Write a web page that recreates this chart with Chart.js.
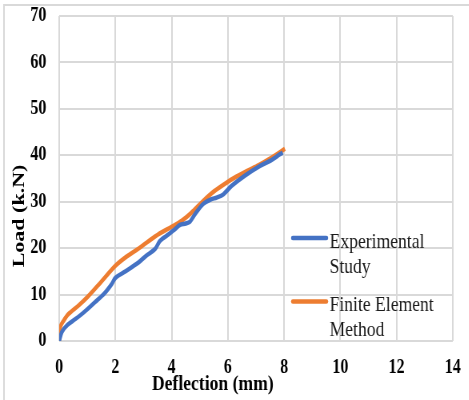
<!DOCTYPE html>
<html>
<head>
<meta charset="utf-8">
<script src="https://cdn.jsdelivr.net/npm/chart.js@4.4.1/dist/chart.umd.min.js"></script>
<style>
  html, body { margin: 0; padding: 0; background: #fff; }
  #wrap { width: 469px; height: 400px; overflow: hidden; position: relative; }
  /* the source figure is squeezed sideways, so draw wide and squeeze */
  #c { transform: scaleX(0.8); transform-origin: 0 0; display: block; }
</style>
</head>
<body>
<div id="wrap"><canvas id="c" width="586" height="400"></canvas></div>
<script>
const expDeflection = [0, 0.1, 0.3, 0.57, 0.9, 1.28, 1.6, 1.87, 2.0, 2.3, 2.82, 3.1, 3.41, 3.59, 3.9, 4.12, 4.3, 4.5, 4.65, 4.83, 5.12, 5.4, 5.6, 5.84, 6.13, 6.6, 7.14, 7.5, 7.85, 7.95];
const expLoad = [0, 2.0, 3.5, 4.7, 6.3, 8.4, 10.2, 12.3, 13.6, 14.8, 16.9, 18.4, 19.8, 21.6, 23.0, 24.1, 25.0, 25.3, 25.7, 27.3, 29.5, 30.5, 30.9, 31.6, 33.4, 35.6, 37.7, 38.8, 40.2, 40.6];

const femDeflection = [0, 0.04, 0.15, 0.33, 0.7, 1.04, 1.5, 2.0, 2.4, 2.82, 3.2, 3.53, 4.0, 4.36, 4.7, 5.13, 5.5, 5.95, 6.3, 6.67, 7.1, 7.5, 8.03];
const femLoad = [0, 3.0, 4.3, 5.8, 7.7, 9.7, 12.8, 16.2, 18.2, 19.9, 21.6, 23.0, 24.6, 25.9, 27.6, 30.2, 32.2, 34.1, 35.4, 36.6, 37.9, 39.3, 41.4];

const xTitle = "Deflection (mm)";
const yTitle = "Load (k.N)";

const blue = "#4472C4";
const orange = "#ED7D31";
const gridColor = "#d9d9d9";
const serif = '"Liberation Serif", "Times New Roman", serif';

const toPoints = (xs, ys) => xs.map((x, i) => ({ x: x, y: ys[i] }));

// titles + wrapped legend, drawn by hand
const extras = {
  id: "extras",
  beforeDraw(chart) {
    const ctx = chart.ctx;
    ctx.save();
    ctx.strokeStyle = gridColor;
    ctx.lineWidth = 2;
    ctx.beginPath();
    ctx.moveTo(5, 400);
    ctx.lineTo(5, 5);
    ctx.lineTo(chart.width, 5);
    ctx.stroke();
    ctx.restore();
  },
  afterDraw(chart) {
    const ctx = chart.ctx;
    ctx.save();
    ctx.fillStyle = "#000";
    ctx.font = "bold 22px " + serif;
    ctx.textAlign = "center";
    ctx.textBaseline = "alphabetic";
    ctx.fillText(xTitle, 266, 390);

    ctx.translate(30, 216);
    ctx.rotate(-Math.PI / 2);
    ctx.fillText(yTitle, 0, 0);
    ctx.restore();

    // legend
    ctx.save();
    ctx.font = "22px " + serif;
    ctx.fillStyle = "#1a1a1a";
    ctx.textAlign = "left";
    ctx.lineCap = "round";
    ctx.lineWidth = 4.5;
    const items = [
      { color: blue, lines: ["Experimental", "Study"], y: 238 },
      { color: orange, lines: ["Finite Element", "Method"], y: 301.5 }
    ];
    items.forEach((it) => {
      ctx.strokeStyle = it.color;
      ctx.beginPath();
      ctx.moveTo(366, it.y);
      ctx.lineTo(408, it.y);
      ctx.stroke();
      it.lines.forEach((t, i) => {
        ctx.fillText(t, 412, it.y + 9.5 + i * 25);
      });
    });
    ctx.restore();
  }
};

new Chart(document.getElementById("c"), {
  type: "line",
  data: {
    datasets: [
      {
        label: "Experimental Study",
        data: toPoints(expDeflection, expLoad),
        borderColor: blue,
        backgroundColor: blue,
        borderWidth: 4.5,
        pointRadius: 0,
        tension: 0.3,
        fill: false
      },
      {
        label: "Finite Element Method",
        data: toPoints(femDeflection, femLoad),
        borderColor: orange,
        backgroundColor: orange,
        borderWidth: 4.5,
        pointRadius: 0,
        tension: 0.3,
        fill: false
      }
    ]
  },
  options: {
    responsive: false,
    animation: false,
    devicePixelRatio: 1,
    layout: {
      padding: { left: 38, right: 20, top: 16, bottom: 21 }
    },
    plugins: {
      legend: { display: false },
      tooltip: { enabled: false }
    },
    scales: {
      x: {
        type: "linear",
        min: 0,
        max: 14,
        afterFit: (s) => {
          s.height = 38;
          s.paddingLeft = 0;
          s.paddingRight = 0;
        },
        ticks: {
          stepSize: 2,
          color: "#000",
          padding: 15,
          maxRotation: 0,
          font: { family: serif, size: 20, weight: "bold" }
        },
        grid: { color: gridColor, lineWidth: 2, drawTicks: false },
        border: { display: false }
      },
      y: {
        min: 0,
        max: 70,
        afterFit: (s) => {
          s.width = 36;
          s.paddingTop = 0;
          s.paddingBottom = 0;
        },
        ticks: {
          stepSize: 10,
          color: "#000",
          padding: 16,
          font: { family: serif, size: 20, weight: "bold" }
        },
        grid: { color: gridColor, lineWidth: 2, drawTicks: false },
        border: { display: false }
      }
    }
  },
  plugins: [extras]
});
</script>
</body>
</html>
